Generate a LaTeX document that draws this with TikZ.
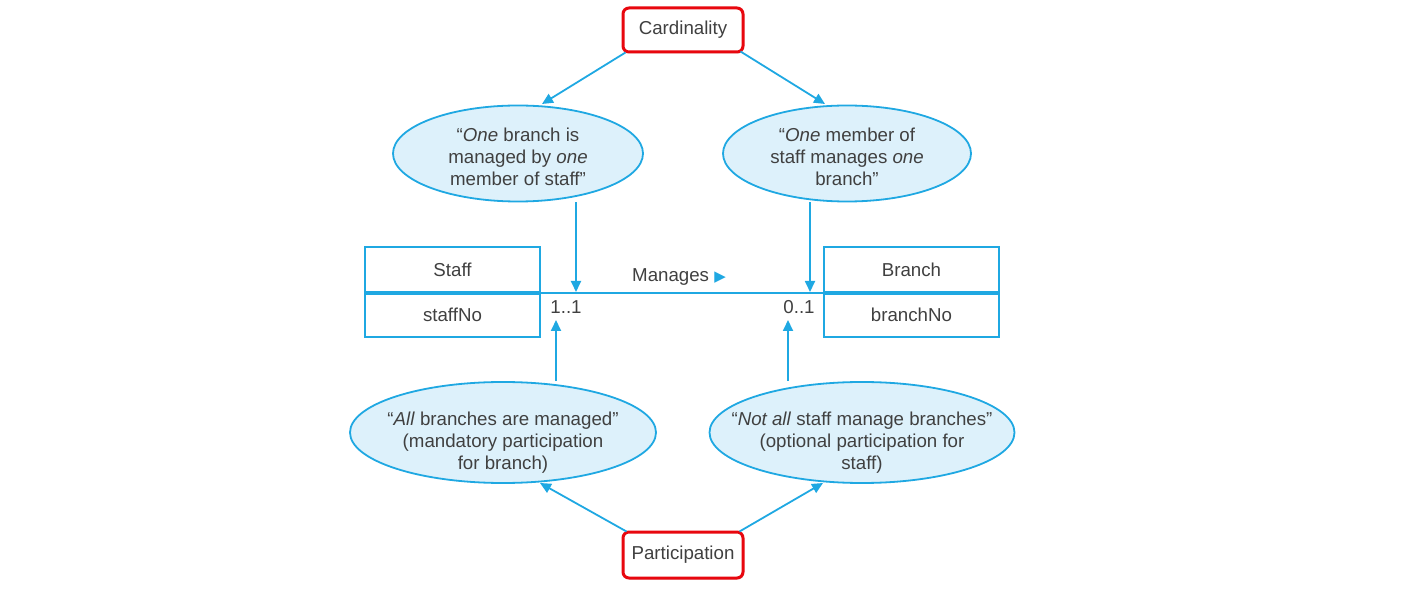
\documentclass[tikz,border=0pt]{standalone}
\usepackage{fontspec}
\setmainfont{Liberation Sans}
\newfontfamily\dejavu{DejaVu Sans}
\usetikzlibrary{arrows.meta,shapes.geometric,backgrounds,shadows}
\definecolor{lineblue}{HTML}{1FA8E2}
\definecolor{fillblue}{HTML}{DDF1FB}
\definecolor{txt}{HTML}{404040}
\definecolor{redbox}{HTML}{E8070E}
\begin{document}
\begin{tikzpicture}[x=1pt,y=1pt,
  font=\fontsize{18.7}{22}\selectfont, text=txt,
  bubble/.style={ellipse, draw=lineblue, fill=fillblue, line width=1.8pt, inner sep=0pt},
  btext/.style={align=center, inner sep=0pt},
  labelbox/.style={draw=redbox, line width=3pt, rounded corners=6pt, fill=white, inner sep=0pt,
     minimum width=120pt, drop shadow={shadow xshift=1pt, shadow yshift=-1.5pt, opacity=0.25}},
  cls/.style={draw=lineblue, line width=1.8pt, fill=white, minimum width=175pt, inner sep=0pt},
  conn/.style={draw=lineblue, line width=1.8pt},
  arr/.style={conn, -{Triangle[length=11pt,width=10pt]}}]
\useasboundingbox (0,0) rectangle (1416,592);

\node[labelbox, minimum height=44pt] (card) at (683,562) {Cardinality};
\node[labelbox, minimum height=46pt] (part) at (683,37) {Participation};

\node[bubble, minimum width=250pt, minimum height=96pt] (e1) at (518,438.5) {};
\node[bubble, minimum width=248pt, minimum height=96pt] (e2) at (847,438.5) {};
\node[bubble, minimum width=306pt, minimum height=101pt] (e3) at (503,159.5) {};
\node[bubble, minimum width=305pt, minimum height=101pt] (e4) at (862,159.5) {};
\node[btext] (e1t) at ([yshift=-3pt]e1.center)
  {``\textit{One} branch is\\ managed by \textit{one}\\ member of staff''};
\node[btext] (e2t) at ([yshift=-3pt]e2.center)
  {``\textit{One} member of\\ staff manages \textit{one}\\ branch''};
\node[btext] (e3t) at ([yshift=-10.5pt]e3.center)
  {``\textit{All} branches are managed''\\ (mandatory participation\\ for branch)};
\node[btext] (e4t) at ([yshift=-10.5pt]e4.center)
  {``\textit{Not all} staff manage branches''\\ (optional participation for\\ staff)};

\node[cls, minimum height=45pt] (sh) at (452.5,322.5) {Staff};
\node[cls, minimum height=43pt, anchor=north] (sa) at (sh.south) {staffNo};
\node[cls, minimum height=45pt] (bh) at (911.5,322.5) {Branch};
\node[cls, minimum height=43pt, anchor=north] (ba) at (bh.south) {branchNo};

\draw[conn] (sh.south east) -- (bh.south west);
\coordinate (m1) at (576,300);
\coordinate (m2) at (810,300);
\coordinate (u1) at (556,272);
\coordinate (u2) at (788,272);

\node (mg) at (679,315) {Manages {\dejavu\fontsize{15}{15}\selectfont\textcolor{lineblue}{▶}}};
\node (r1) at (566,285) {1..1};
\node (r2) at (799,285) {0..1};

\begin{scope}[on background layer]
\draw[arr] (e1.south -| m1) -- (m1);
\draw[arr] (e2.south -| m2) -- (m2);
\draw[arr] (e3.north -| u1) -- (u1);
\draw[arr] (e4.north -| u2) -- (u2);
\end{scope}
\coordinate (t1) at (542,488);
\coordinate (t2) at (825,488);
\coordinate (b1) at (540,109);
\coordinate (b2) at (823,109);
\draw[arr] ([xshift=4pt,yshift=1pt]card.south west) -- (t1);
\draw[arr] ([xshift=-4pt,yshift=2pt]card.south east) -- (t2);
\draw[arr] ([xshift=5pt,yshift=-1pt]part.north west) -- (b1);
\draw[arr] ([xshift=-5pt,yshift=-1pt]part.north east) -- (b2);
\end{tikzpicture}
\end{document}
